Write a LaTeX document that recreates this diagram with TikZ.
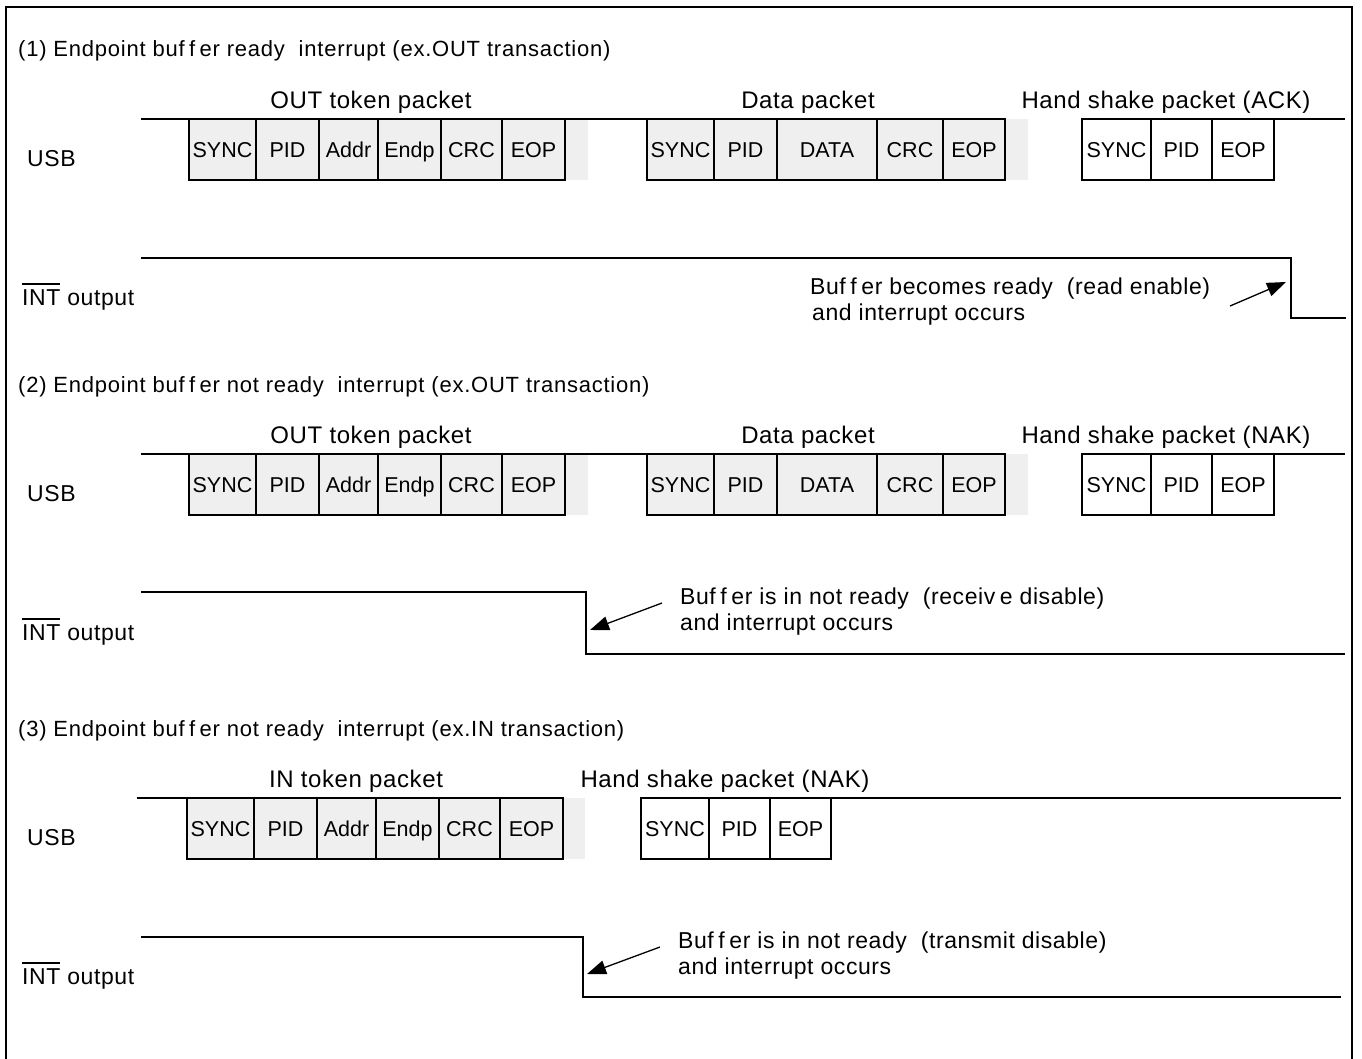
\documentclass[tikz,border=0pt]{standalone}
\usepackage{fontspec}
\setmainfont{Liberation Sans}
\newfontfamily\hfont[LetterSpace=3.5]{Liberation Sans}
\newfontfamily\pfont[LetterSpace=2.5]{Liberation Sans}
\usetikzlibrary{arrows.meta}
\definecolor{boxgray}{RGB}{239,239,239}
\tikzset{
 heading/.style={anchor=west, inner sep=0pt, text height=15.8pt, text depth=0pt, font=\hfont\fontsize{22}{26}\selectfont},
 pktlabel/.style={inner sep=0pt, text height=17.2pt, text depth=0pt, font=\pfont\fontsize{24}{28}\selectfont},
 siglabel/.style={anchor=west, inner sep=0pt, text height=16.5pt, text depth=0pt, font=\pfont\fontsize{23}{27}\selectfont},
 note/.style={anchor=west, inner sep=0pt, text height=16.5pt, text depth=0pt, font=\pfont\fontsize{23}{27}\selectfont},
 fld/.style={draw, fill=boxgray, line width=1.5pt, inner sep=0pt, outer sep=0pt, minimum height=61pt, text height=16pt, text depth=0pt, font=\fontsize{21.5}{24}\selectfont},
 hsfld/.style={fld, fill=white},
 band/.style={fill=boxgray},
 sig/.style={line width=1.5pt},
 frameline/.style={line width=2.4pt},
 notearrow/.style={line width=1.3pt, -{Triangle[length=19pt,width=14pt]}},
}
\newcommand\ovl[1]{\vbox{\hrule height 1.6pt\kern4.5pt\hbox{#1}}}
\newcommand\fieldbox[5][fld]{\node[#1, minimum width={#4-#3}] (#2) at ({(#3+#4)/2},30.5) {#5};}
\newcommand\outrow[3]{%
 \begin{scope}[yshift=-#2pt]
  \fill[band] (565,0) rectangle (588,61);
  \fill[band] (1005,0) rectangle (1028,61);
  \coordinate (#1s) at (141,0);
  \coordinate (#1t) at (1345,0);
  \fieldbox{#1a1}{189}{256}{SYNC}
  \fieldbox{#1a2}{256}{319}{PID}
  \fieldbox{#1a3}{319}{378}{Addr}
  \fieldbox{#1a4}{378}{441}{Endp}
  \fieldbox{#1a5}{441}{502}{CRC}
  \fieldbox{#1a6}{502}{565}{EOP}
  \fieldbox{#1d1}{647}{714}{SYNC}
  \fieldbox{#1d2}{714}{777}{PID}
  \fieldbox{#1d3}{777}{877}{DATA}
  \fieldbox{#1d4}{877}{943}{CRC}
  \fieldbox{#1d5}{943}{1005}{EOP}
  \fieldbox[hsfld]{#1h1}{1082}{1151}{SYNC}
  \fieldbox[hsfld]{#1h2}{1151}{1212}{PID}
  \fieldbox[hsfld]{#1h3}{1212}{1274}{EOP}
  \draw[sig] (#1s) -- (#1d5.north east);
  \draw[sig] (#1h3.north east) -- (#1t);
  \node[pktlabel] (#1lo) at (371,-19) {OUT token packet};
  \node[pktlabel] (#1ld) at (808,-19) {Data packet};
  \node[pktlabel] (#1lh) at (1166,-19) {Hand shake packet (#3)};
  \node[siglabel] (#1usb) at (27,39) {USB};
 \end{scope}}
\begin{document}
\begin{tikzpicture}[x=1pt,y=-1pt]
\useasboundingbox (0,0) rectangle (1362,1059);
\fill[white] (0,0) rectangle (1362,1059);
\draw[frameline] (6,1059) -- (6,7) -- (1352,7) -- (1352,1059);

% ---------- (1)
\node[heading] (h1) at (18,49) {(1) Endpoint buf\hspace{0.2em}f\hspace{0.2em}er ready~ interrupt (ex.OUT transaction)};
\outrow{r1}{119}{ACK}
\node[siglabel] (int1) at (22,297) {\ovl{INT} output};
\coordinate (i1a) at (141,258);
\coordinate (i1b) at (1291,258);
\coordinate (i1c) at (1346,318);
\draw[sig] (i1a) -- (i1b) |- (i1c);
\node[note] (n1a) at (810,286) {Buf\hspace{0.2em}f\hspace{0.2em}er becomes ready~ (read enable)};
\node[note] (n1b) at (812,312) {and interrupt occurs};
\coordinate (a1t) at (1230,306);
\coordinate (a1h) at (1286,282);
\draw[notearrow] (a1t) -- (a1h);

% ---------- (2)
\node[heading] (h2) at (18,385) {(2) Endpoint buf\hspace{0.2em}f\hspace{0.2em}er not ready~ interrupt (ex.OUT transaction)};
\outrow{r2}{454}{NAK}
\node[siglabel] (int2) at (22,632) {\ovl{INT} output};
\coordinate (i2a) at (141,592);
\coordinate (i2b) at (586,592);
\coordinate (i2c) at (1345,654);
\draw[sig] (i2a) -- (i2b) |- (i2c);
\node[note] (n2a) at (680,596) {Buf\hspace{0.2em}f\hspace{0.2em}er is in not ready~ (receiv\hspace{0.2em}e disable)};
\node[note] (n2b) at (680,622) {and interrupt occurs};
\coordinate (a2t) at (662,603);
\coordinate (a2h) at (590,630);
\draw[notearrow] (a2t) -- (a2h);

% ---------- (3)
\node[heading] (h3) at (18,729) {(3) Endpoint buf\hspace{0.2em}f\hspace{0.2em}er not ready~ interrupt (ex.IN transaction)};
\begin{scope}[yshift=-798pt]
  \fill[band] (563,0) rectangle (585,61);
  \coordinate (r3s) at (137,0);
  \coordinate (r3t) at (1341,0);
  \fieldbox{r3a1}{187}{254}{SYNC}
  \fieldbox{r3a2}{254}{317}{PID}
  \fieldbox{r3a3}{317}{376}{Addr}
  \fieldbox{r3a4}{376}{439}{Endp}
  \fieldbox{r3a5}{439}{500}{CRC}
  \fieldbox{r3a6}{500}{563}{EOP}
  \fieldbox[hsfld]{r3h1}{641}{709}{SYNC}
  \fieldbox[hsfld]{r3h2}{709}{770}{PID}
  \fieldbox[hsfld]{r3h3}{770}{831}{EOP}
  \draw[sig] (r3s) -- (r3a6.north east);
  \draw[sig] (r3h3.north east) -- (r3t);
  \node[pktlabel] (r3li) at (356,-19) {IN token packet};
  \node[pktlabel] (r3lh) at (725,-19) {Hand shake packet (NAK)};
  \node[siglabel] (r3usb) at (27,39) {USB};
\end{scope}
\node[siglabel] (int3) at (22,976) {\ovl{INT} output};
\coordinate (i3a) at (141,937);
\coordinate (i3b) at (583,937);
\coordinate (i3c) at (1341,997);
\draw[sig] (i3a) -- (i3b) |- (i3c);
\node[note] (n3a) at (678,940) {Buf\hspace{0.2em}f\hspace{0.2em}er is in not ready~ (transmit disable)};
\node[note] (n3b) at (678,966) {and interrupt occurs};
\coordinate (a3t) at (660,947);
\coordinate (a3h) at (587,974);
\draw[notearrow] (a3t) -- (a3h);
\end{tikzpicture}
\end{document}
